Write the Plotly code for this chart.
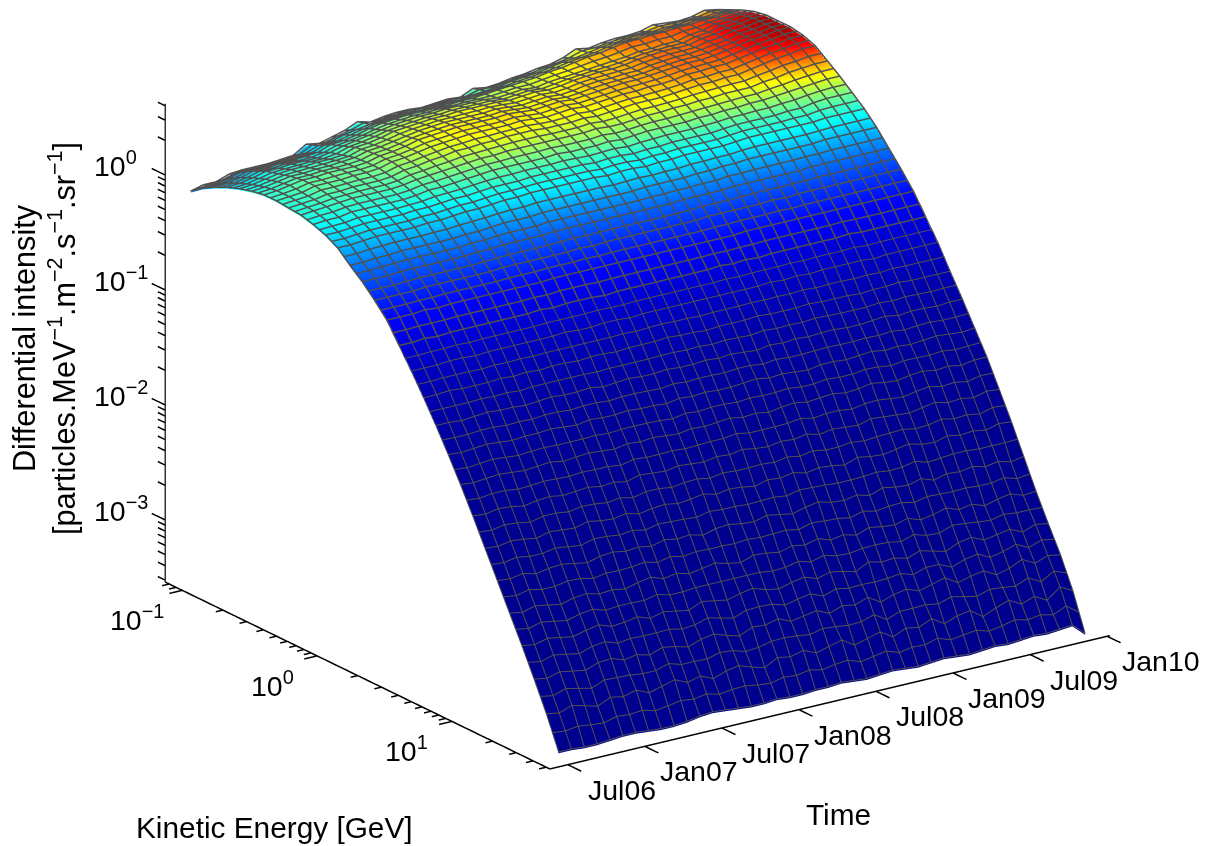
import math
import plotly.graph_objects as go

# log10 kinetic energy [GeV], one entry per row of log_I_hundredths
log_energy = [-1.096,-1.005,-0.914,-0.823,-0.732,-0.641,-0.550,-0.459,-0.368,-0.277,-0.186,-0.095,-0.004,0.087,0.178,0.269,
              0.360,0.451,0.542,0.633,0.724,0.815,0.906,0.997,1.088,1.179,1.270,1.361,1.452,1.543,1.634]
# months since Jan 2006, one entry per column
months = [6.25,7.25,8.25,9.25,10.25,11.25,12.25,13.25,14.25,15.25,16.25,17.25,18.25,19.25,20.25,21.25,22.25,23.25,24.25,25.25,26.25,
          27.25,28.25,29.25,30.25,31.25,32.25,33.25,34.25,35.25,36.25,37.25,38.25,39.25,40.25,41.25,42.25,43.25,44.25,45.25,46.25,47.25]
# log10 intensity x 100
log_I_hundredths = [
[-18,-15,-15,-11,-10,-10,-10,-9,-8,-1,-3,0,3,8,5,7,8,8,7,8,9,8,13,11,12,14,15,17,18,21,26,24,26,27,27,28,31,30,29,30,33,31],
[-10,-9,-7,-4,-4,-3,-3,-2,-1,3,4,7,9,11,12,13,13,14,14,14,15,15,16,17,19,20,21,23,25,26,28,30,31,32,33,33,34,34,35,35,36,36],
[-4,-3,-1,2,2,3,3,4,5,9,10,12,15,17,18,19,19,19,19,20,20,21,22,23,24,25,27,28,30,32,33,35,37,37,38,38,39,39,40,40,41,41],
[1,2,4,7,7,8,8,8,10,13,15,17,19,21,22,23,23,24,24,24,24,23,24,25,24,26,27,28,29,30,31,32,34,34,35,35,38,39,42,43,45,45],
[5,6,8,10,11,11,12,12,13,17,18,20,23,24,25,26,26,27,27,27,27,26,27,28,27,28,30,31,32,32,33,35,36,37,37,37,40,41,44,45,47,47],
[8,9,11,13,13,14,14,15,16,19,20,22,24,26,27,28,28,28,28,29,28,27,28,29,28,29,31,32,32,33,33,35,36,37,37,38,40,41,44,45,47,47],
[10,11,13,15,15,16,16,16,17,20,21,23,26,27,28,29,29,29,29,30,29,28,29,30,29,30,31,32,33,33,34,35,36,37,37,38,40,42,44,45,47,47],
[10,11,12,15,15,15,16,16,17,20,21,23,25,26,27,28,28,28,28,29,28,27,28,29,28,29,30,31,31,32,32,33,35,35,36,36,38,40,42,43,45,45],
[9,10,11,13,13,14,14,14,15,18,19,21,22,24,24,25,25,26,26,26,25,25,25,26,25,26,27,28,28,28,29,30,31,31,32,32,34,36,38,39,41,41],
[8,9,10,11,12,12,12,12,13,15,16,17,18,19,20,20,21,21,21,21,21,21,21,22,21,21,22,23,23,24,24,25,25,26,26,26,28,29,31,32,33,33],
[5,6,6,8,8,8,8,8,9,11,11,12,13,14,15,15,15,15,15,16,15,15,15,16,15,16,17,17,17,17,18,18,19,19,20,20,21,22,23,24,25,25],
[1,1,2,3,3,3,3,4,4,5,6,6,7,8,8,8,9,9,9,9,9,8,9,9,8,9,9,10,10,10,10,11,12,12,12,12,13,13,15,16,16,16],
[-5,-5,-4,-3,-3,-3,-3,-2,-2,-1,0,0,1,2,2,3,3,3,3,3,3,2,3,3,2,3,3,4,4,4,4,5,6,6,6,6,6,6,7,7,7,7],
[-15,-15,-14,-14,-13,-13,-13,-13,-13,-12,-12,-11,-10,-10,-10,-9,-9,-9,-9,-9,-9,-9,-9,-8,-8,-8,-8,-7,-7,-6,-6,-5,-5,-5,-5,-5,-5,-4,-4,-4,-4,-4],
[-24,-24,-24,-23,-23,-23,-23,-23,-23,-22,-22,-21,-21,-21,-21,-20,-20,-20,-20,-20,-20,-20,-20,-20,-20,-19,-19,-19,-19,-18,-18,-18,-18,-18,-18,-17,-17,-17,-17,-17,-17,-17],
[-35,-35,-35,-35,-34,-34,-34,-34,-34,-34,-33,-33,-33,-33,-33,-33,-32,-33,-32,-32,-32,-32,-32,-32,-32,-32,-31,-31,-31,-31,-31,-30,-31,-30,-30,-30,-30,-30,-30,-30,-30,-30],
[-47,-47,-47,-46,-47,-46,-46,-46,-46,-46,-46,-46,-46,-45,-45,-45,-45,-45,-45,-45,-45,-45,-45,-45,-45,-45,-45,-45,-44,-44,-44,-44,-44,-44,-44,-44,-44,-44,-44,-44,-44,-44],
[-64,-64,-63,-64,-63,-63,-63,-63,-63,-63,-63,-62,-63,-62,-62,-62,-63,-62,-62,-62,-62,-62,-62,-62,-62,-61,-62,-61,-62,-61,-61,-61,-61,-61,-61,-60,-61,-61,-61,-61,-61,-61],
[-81,-81,-81,-80,-80,-81,-80,-80,-80,-80,-80,-80,-79,-80,-80,-79,-79,-80,-79,-79,-79,-79,-79,-79,-79,-79,-79,-79,-78,-79,-78,-79,-78,-78,-78,-78,-79,-78,-78,-78,-78,-78],
[-99,-99,-98,-99,-99,-99,-98,-99,-98,-99,-98,-98,-99,-98,-98,-99,-98,-98,-98,-97,-98,-98,-99,-98,-98,-98,-97,-98,-98,-98,-97,-98,-98,-98,-99,-98,-98,-97,-98,-98,-98,-98],
[-118,-118,-119,-118,-117,-118,-118,-119,-118,-117,-118,-118,-117,-119,-118,-117,-118,-118,-117,-118,-118,-117,-118,-117,-118,-119,-117,-118,-117,-118,-117,-117,-118,-118,-117,-116,-118,-117,-117,-118,-117,-117],
[-138,-139,-138,-137,-138,-139,-138,-138,-137,-138,-139,-137,-138,-138,-137,-138,-138,-139,-137,-138,-137,-138,-138,-137,-136,-138,-137,-138,-139,-137,-137,-138,-137,-136,-138,-137,-138,-137,-136,-137,-138,-137],
[-159,-160,-159,-158,-159,-160,-159,-158,-160,-159,-158,-159,-160,-158,-159,-158,-159,-160,-158,-159,-158,-157,-159,-158,-160,-158,-157,-159,-158,-157,-159,-158,-156,-158,-159,-157,-156,-158,-157,-159,-157,-157],
[-181,-182,-180,-181,-183,-181,-180,-182,-181,-180,-182,-181,-183,-180,-181,-182,-180,-181,-182,-180,-181,-179,-181,-182,-180,-181,-179,-182,-180,-181,-182,-179,-180,-181,-182,-180,-178,-181,-180,-182,-179,-180],
[-204,-205,-203,-204,-206,-203,-204,-205,-202,-204,-205,-203,-206,-204,-203,-205,-204,-202,-205,-203,-204,-206,-203,-204,-202,-205,-203,-204,-206,-202,-204,-205,-203,-201,-204,-205,-202,-204,-203,-205,-202,-203],
[-227,-228,-226,-229,-227,-226,-228,-230,-227,-226,-228,-227,-229,-226,-228,-227,-230,-227,-226,-228,-229,-226,-228,-230,-227,-225,-228,-229,-227,-230,-226,-228,-229,-226,-230,-227,-228,-226,-229,-227,-230,-228],
[-250,-252,-249,-251,-253,-250,-249,-252,-251,-253,-250,-248,-252,-250,-253,-251,-249,-252,-254,-250,-251,-253,-250,-252,-249,-253,-251,-254,-250,-252,-253,-250,-254,-252,-249,-253,-251,-255,-252,-250,-254,-253],
[-273,-275,-272,-274,-276,-273,-271,-275,-274,-272,-276,-273,-275,-277,-272,-274,-276,-273,-271,-275,-277,-274,-272,-276,-273,-275,-278,-272,-275,-274,-277,-273,-276,-279,-274,-272,-277,-275,-273,-278,-274,-276],
[-297,-299,-296,-298,-300,-296,-295,-299,-297,-300,-296,-298,-301,-297,-295,-299,-302,-297,-298,-295,-300,-298,-296,-301,-297,-299,-295,-302,-298,-296,-300,-297,-294,-301,-298,-296,-302,-299,-294,-300,-296,-298],
[-322,-324,-320,-323,-326,-321,-323,-320,-325,-322,-319,-324,-321,-326,-322,-320,-324,-327,-321,-323,-320,-325,-322,-319,-326,-323,-320,-327,-322,-324,-319,-326,-322,-320,-328,-323,-319,-325,-321,-327,-318,-324],
[-350,-350,-351,-351,-350,-349,-349,-350,-351,-351,-350,-348,-347,-348,-349,-350,-350,-349,-350,-350,-349,-349,-348,-349,-350,-349,-348,-349,-350,-349,-348,-349,-350,-349,-348,-349,-348,-347,-348,-347,-346,-356],
]

z_major = [-3,-2,-1,0]
z_major_labels = ["10<sup>−3</sup>","10<sup>−2</sup>","10<sup>−1</sup>","10<sup>0</sup>"]
e_major = [-1,0,1]
e_major_labels = ["10<sup>−1</sup>","10<sup>0</sup>","10<sup>1</sup>"]
t_ticks = [6,12,18,24,30,36,42,48]
t_labels = ["Jul06","Jan07","Jul07","Jan08","Jul08","Jan09","Jul09","Jan10"]
mult = [2,3,4,5,6,7,8,9]

X0,X1,T0,T1,Z0,Z1 = -1.126,1.726,4.6,48.2,-3.54,0.62

z_minor = [k+math.log10(m) for k in [-4,-3,-2,-1,0] for m in mult]
z_minor = [v for v in z_minor if Z0<=v<=Z1]
e_minor = [k+math.log10(m) for k in [-2,-1,0,1] for m in mult]
e_minor = [v for v in e_minor if X0<=v<=X1]

log_I = [[v/100 for v in col] for col in zip(*log_I_hundredths)]   # months x energies
intensity = [[10**v for v in col] for col in log_I]

jet=[[0,'rgb(0,0,143)'],[.11,'rgb(0,0,255)'],[.36,'rgb(0,255,255)'],[.61,'rgb(255,255,0)'],[.86,'rgb(255,0,0)'],[1,'rgb(128,0,0)']]
MESH='#505050'

fig=go.Figure()
fig.add_surface(x=log_energy,y=months,z=log_I,surfacecolor=intensity,colorscale=jet,cmin=0,cmax=3.1,showscale=False,hoverinfo='skip',
    lighting=dict(ambient=1,diffuse=0,specular=0,roughness=1,fresnel=0))

def seg(xs,ys,zs,color='black',w=3):
    fig.add_scatter3d(x=xs,y=ys,z=zs,mode='lines',line=dict(color=color,width=w),hoverinfo='skip',showlegend=False)

# wire mesh on the surface: energy lines, half-way energy lines, time lines; thinner in the lower part
LIFT=0.012
SPLIT=17
def mesh(r0,r1,w):
    xs,ys,zs=[],[],[]
    for r in range(r0,r1+1):
        xs+=[log_energy[r]]*len(months)+[None]; ys+=months+[None]; zs+=[c[r]+LIFT for c in log_I]+[None]
    for r in range(r0,r1):
        xs+=[(log_energy[r]+log_energy[r+1])/2]*len(months)+[None]; ys+=months+[None]
        zs+=[(c[r]+c[r+1])/2+LIFT for c in log_I]+[None]
    for j,t in enumerate(months):
        xs+=log_energy[r0:r1+1]+[None]; ys+=[t]*(r1-r0+1)+[None]; zs+=[v+LIFT for v in log_I[j][r0:r1+1]]+[None]
    seg(xs,ys,zs,MESH,w)
mesh(0,SPLIT,3)
mesh(SPLIT,len(log_energy)-1,2)

seg([X0,X1],[T0,T0],[Z0,Z0])
seg([X1,X1],[T0,T1],[Z0,Z0])
seg([X0,X0],[T0,T0],[Z0,Z1],'#333333')
def ticks(vals,L,fn):
    xs,ys,zs=[],[],[]
    for v in vals:
        a,b=fn(v,L); xs+=[a[0],b[0],None]; ys+=[a[1],b[1],None]; zs+=[a[2],b[2],None]
    seg(xs,ys,zs)
fz=lambda v,L:((X0,T0,v),(X0-L*0.1,T0,v))
fe=lambda v,L:((v,T0,Z0),(v,T0-L*1.0,Z0))
ft=lambda v,L:((X1,v,Z0),(X1+L*0.1,v,Z0))
ticks(z_major,1,fz); ticks(z_minor,.55,fz)
ticks(e_major,1,fe); ticks(e_minor,.55,fe)
ticks(t_ticks,1,ft)

FONT=dict(family="Liberation Sans",size=28.5,color='black')
ann=[]
for k,s in zip(z_major,z_major_labels):
    ann.append(dict(x=X0,y=T0,z=k,text=s,showarrow=False,font=FONT,xanchor='left',xshift=-73,yshift=11))
for k,s in zip(e_major,e_major_labels):
    ann.append(dict(x=k,y=T0,z=Z0,text=s,showarrow=False,font=FONT,xshift=-45,yshift=-28))
for k,s in zip(t_ticks,t_labels):
    ann.append(dict(x=X1,y=k,z=Z0,text=s,showarrow=False,font=FONT,xshift=54,yshift=-25))

TF=dict(family="Liberation Sans",size=29.8,color='black')
def paper(px,py,text,font=TF,**kw):
    return dict(x=px/1210,y=1-py/846,xref='paper',yref='paper',text=text,showarrow=False,font=font,xanchor='center',yanchor='middle',**kw)

C=(-.0052,-.0828,-.1197)
D=(.9933,-.6953,.4386)
fig.update_layout(width=1210,height=846,margin=dict(l=0,r=0,t=0,b=0),paper_bgcolor='white',showlegend=False,
  scene=dict(domain=dict(x=[0,1],y=[0,1]),
    xaxis=dict(visible=False,range=[-1.25,1.85]),yaxis=dict(visible=False,range=[3.4,49]),zaxis=dict(visible=False,range=[-3.6,.7]),
    aspectmode='manual',aspectratio=dict(x=1.723,y=1.69,z=1.243),
    camera=dict(projection=dict(type='orthographic'),
                eye=dict(x=C[0]+D[0],y=C[1]+D[1],z=C[2]+D[2]),center=dict(x=C[0],y=C[1],z=C[2]),up=dict(x=0,y=0,z=1)),
    annotations=ann),
  annotations=[
   paper(44,339,"Differential intensity<br>[particles.MeV<sup>−1</sup>.m<sup>−2</sup>.s<sup>−1</sup>.sr<sup>−1</sup>]",
         font=dict(family="Liberation Sans",size=30.7,color='black'),textangle=-90),
   paper(274,827,"Kinetic Energy [GeV]"),
   paper(838,814,"Time")])
fig.write_html("out.html",config=dict(displayModeBar=False),post_script="document.body.style.margin='0';")
